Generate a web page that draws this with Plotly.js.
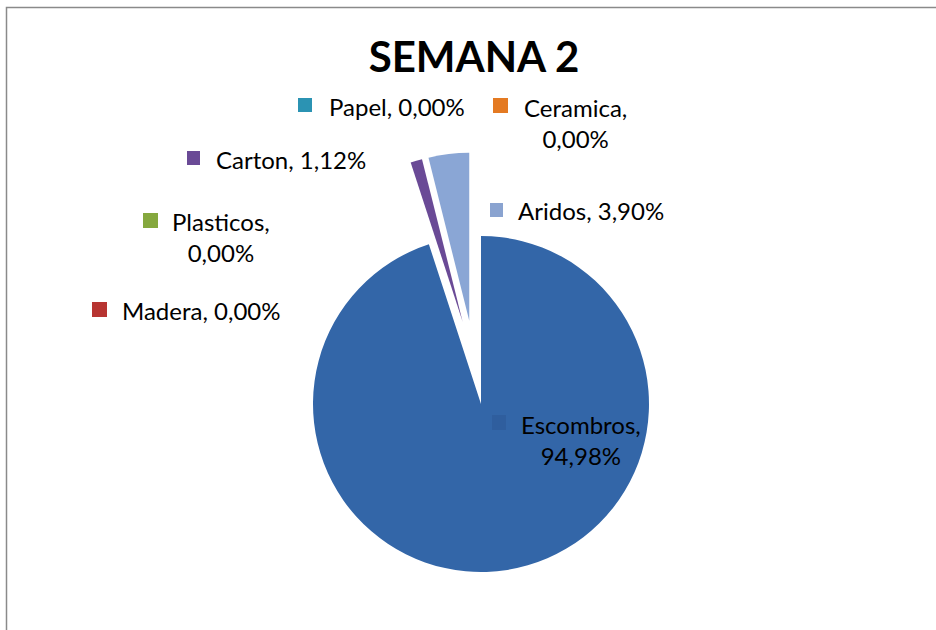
<!DOCTYPE html>
<html>
<head>
<meta charset="utf-8">
<script src="https://cdn.plot.ly/plotly-3.0.1.min.js"></script>
<style>
  html, body { margin: 0; padding: 0; background: #ffffff; }
  #chart { width: 936px; height: 630px; }
</style>
</head>
<body>
<div id="chart"></div>
<script>
// ---- data ----
var categories = ["Escombros", "Madera", "Plasticos", "Carton", "Papel", "Ceramica", "Aridos"];
var percentages = [94.98, 0.00, 0.00, 1.12, 0.00, 0.00, 3.90];
var chartTitle = "SEMANA 2";

// ---- styles ----
var sliceColors = ["#3366A8", "#B73431", "#85A83E", "#6A4A96", "#2B93B3", "#E47A22", "#8AA6D5"];
var keyColors   = ["#2F5E9E", "#B73431", "#85A83E", "#6A4A96", "#2B93B3", "#E47A22", "#8AA3D0"];
var W = 936, H = 630;
function px(x) { return x / W; }
function py(y) { return 1 - y / H; }

// label layout (pixel positions): text anchor, line break, key square
var labelLayout = {
  "Escombros": {x: 581, y: 440, anchor: "center", br: true,  key: [492, 415, 506, 430]},
  "Madera":    {x: 120, y: 310, anchor: "left",   br: false, key: [92, 302, 107, 317]},
  "Plasticos": {x: 221, y: 237, anchor: "center", br: true,  key: [143, 213, 158, 228]},
  "Carton":    {x: 214, y: 159, anchor: "left",   br: false, key: [187, 151, 200, 165]},
  "Papel":     {x: 327, y: 106, anchor: "left",   br: false, key: [298, 98, 312, 112]},
  "Ceramica":  {x: 575, y: 123, anchor: "center", br: true,  key: [493, 98, 508, 113]},
  "Aridos":    {x: 516, y: 211, anchor: "left",   br: false, key: [490, 203, 503, 217]}
};

function fmtPct(v) { return v.toFixed(2).replace(".", ",") + "%"; }

var trace = {
  type: "pie",
  labels: categories,
  values: percentages,
  sort: false,
  direction: "clockwise",
  rotation: 0,
  pull: categories.map(function () { return 0.25; }),
  marker: { colors: sliceColors, line: { width: 0 } },
  textinfo: "none",
  hoverinfo: "label+percent",
  showlegend: false,
  domain: { x: [px(264.4), px(684.4)], y: [py(572.5), py(152.5)] }
};

var annotations = [];
var shapes = [];
categories.forEach(function (c, i) {
  var L = labelLayout[c];
  annotations.push({
    xref: "paper", yref: "paper",
    x: px(L.x), y: py(L.y),
    xanchor: L.anchor, yanchor: "middle",
    align: "center",
    showarrow: false,
    text: c + "," + (L.br ? "<br>" : " ") + fmtPct(percentages[i]),
    font: { family: "Lato, 'Open Sans', sans-serif", size: 24, color: "#000000" }
  });
  shapes.push({
    type: "rect", xref: "paper", yref: "paper",
    x0: px(L.key[0]), y0: py(L.key[1]), x1: px(L.key[2]), y1: py(L.key[3]),
    fillcolor: keyColors[i], line: { width: 0 }
  });
});

// outer chart frame
shapes.push({
  type: "rect", xref: "paper", yref: "paper",
  x0: px(6.5), y0: py(7.5), x1: px(950), y1: py(650),
  line: { color: "#8a8a8a", width: 1.5 }, fillcolor: "rgba(0,0,0,0)"
});

var layout = {
  width: W, height: H,
  margin: { l: 0, r: 0, t: 0, b: 0 },
  paper_bgcolor: "#ffffff",
  showlegend: false,
  title: {
    text: "<b>" + chartTitle + "</b>",
    font: { family: "Lato, 'Open Sans', sans-serif", size: 42, color: "#000000" },
    x: px(474), xref: "paper", xanchor: "center",
    y: py(57), yref: "paper", yanchor: "middle"
  },
  annotations: annotations,
  shapes: shapes
};

Plotly.newPlot("chart", [trace], layout, { staticPlot: true, displayModeBar: false });
</script>
</body>
</html>
